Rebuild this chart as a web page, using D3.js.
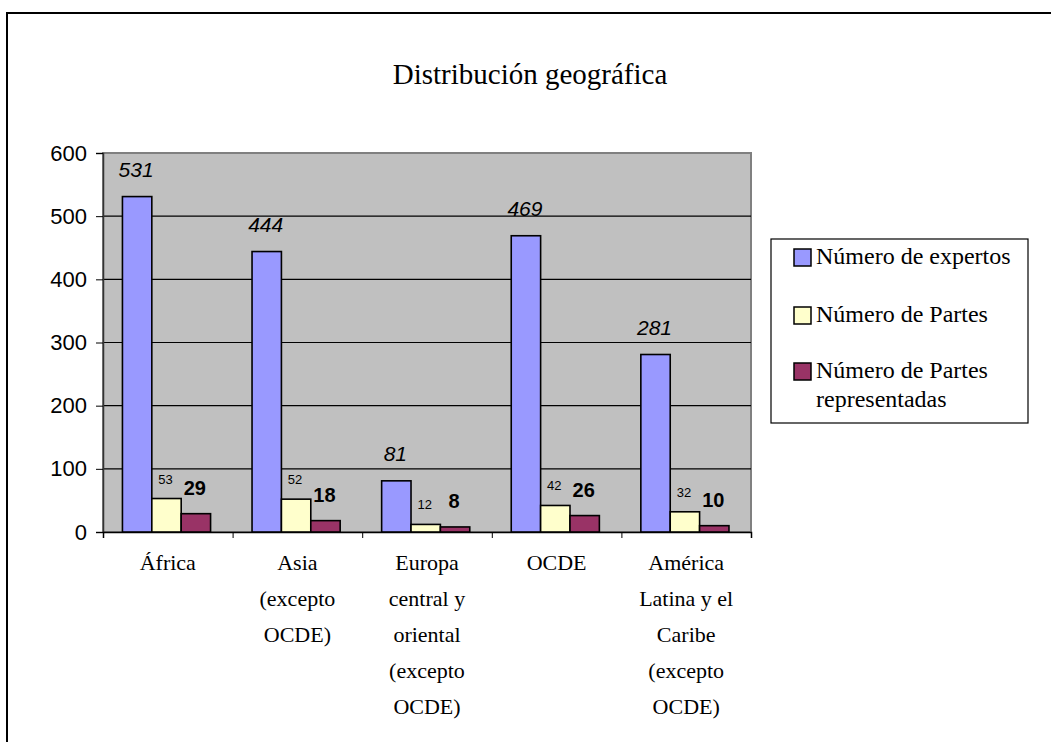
<!DOCTYPE html>
<html>
<head>
<meta charset="utf-8">
<script src="https://cdn.jsdelivr.net/npm/d3@7"></script>
<style>
  body { margin: 0; background: #fff; }
</style>
</head>
<body>
<div id="chart-root"></div>
<script>
// data
var regions = [
  ["África"],
  ["Asia", "(excepto", "OCDE)"],
  ["Europa", "central y", "oriental", "(excepto", "OCDE)"],
  ["OCDE"],
  ["América", "Latina y el", "Caribe", "(excepto", "OCDE)"]
];
var expertos = [531, 444, 81, 469, 281];
var partes = [53, 52, 12, 42, 32];
var representadas = [29, 18, 8, 26, 10];
var seriesNames = [["Número de expertos"], ["Número de Partes"], ["Número de Partes", "representadas"]];
var yTicks = [0, 100, 200, 300, 400, 500, 600];
var title = "Distribución geográfica";

(function () {
  var W = 1051, H = 742;
  var plot = { left: 103, right: 751, top: 153, bottom: 532 };
  var colors = ["#9999ff", "#ffffcc", "#993366"];
  var serif = "'Liberation Serif', 'Times New Roman', serif";
  var sans = "'Liberation Sans', Arial, sans-serif";

  var svg = d3.select("#chart-root")
    .append("svg")
      .attr("width", W)
      .attr("height", H);

  // outer frame (runs off the page on the right and bottom)
  svg.append("rect")
    .attr("x", 7).attr("y", 13)
    .attr("width", W + 20).attr("height", H + 20)
    .attr("fill", "#fff")
    .attr("stroke", "#000")
    .attr("stroke-width", 2);

  svg.append("text")
    .attr("x", 530).attr("y", 84)
    .attr("text-anchor", "middle")
    .attr("font-family", serif)
    .attr("font-size", 29)
    .text(title);

  var series = [expertos, partes, representadas];
  var rows = regions.map(function (r, i) {
    return { i: i, lines: r, values: series.map(function (s) { return s[i]; }) };
  });

  var x = d3.scaleBand()
    .domain(d3.range(regions.length))
    .range([plot.left, plot.right]);
  var bw = x.bandwidth();
  var xs = d3.scaleBand()
    .domain([0, 1, 2])
    .range([bw * 0.15, bw * 0.83]);
  var y = d3.scaleLinear()
    .domain([0, 600])
    .range([plot.bottom, plot.top]);

  // plot area
  svg.append("rect")
    .attr("x", plot.left).attr("y", plot.top)
    .attr("width", plot.right - plot.left)
    .attr("height", plot.bottom - plot.top)
    .attr("fill", "#c0c0c0")
    .attr("stroke", "#808080")
    .attr("stroke-width", 2);

  // gridlines
  svg.append("g")
    .selectAll("line")
    .data(yTicks.filter(function (t) { return t > 0 && t < 600; }))
    .enter().append("line")
      .attr("x1", plot.left).attr("x2", plot.right)
      .attr("y1", function (d) { return y(d); })
      .attr("y2", function (d) { return y(d); })
      .attr("stroke", "#000")
      .attr("stroke-width", 1.2);

  // y axis
  var yAxis = svg.append("g")
    .attr("transform", "translate(" + plot.left + ",0)")
    .call(d3.axisLeft(y).tickValues(yTicks).tickSize(7).tickPadding(9));
  yAxis.select(".domain").attr("stroke", "#333").attr("stroke-width", 1.5);
  yAxis.selectAll(".tick line").attr("stroke", "#000");
  yAxis.selectAll("text")
    .attr("font-family", sans)
    .attr("font-size", 22)
    .attr("fill", "#000");

  // x axis, ticks between categories
  var xb = d3.scaleLinear().domain([0, regions.length]).range([plot.left, plot.right]);
  var xAxis = svg.append("g")
    .attr("transform", "translate(0," + plot.bottom + ")")
    .call(d3.axisBottom(xb).tickValues(d3.range(regions.length + 1)).tickSize(6).tickFormat(""));
  xAxis.select(".domain").attr("stroke", "#000").attr("stroke-width", 1.5);
  xAxis.selectAll(".tick line").attr("stroke", "#000");

  // bars
  var groups = svg.append("g")
    .selectAll("g")
    .data(rows)
    .enter().append("g")
      .attr("transform", function (d) { return "translate(" + x(d.i) + ",0)"; });

  groups.selectAll("rect")
    .data(function (d) { return d.values; })
    .enter().append("rect")
      .attr("x", function (d, j) { return xs(j); })
      .attr("width", xs.bandwidth())
      .attr("y", function (d) { return y(d); })
      .attr("height", function (d) { return y(0) - y(d); })
      .attr("fill", function (d, j) { return colors[j]; })
      .attr("stroke", "#000")
      .attr("stroke-width", 1.6);

  // value labels
  var labelStyle = [
    { size: 21, weight: "normal", fstyle: "italic", gap: 20 },
    { size: 13, weight: "normal", fstyle: "normal", gap: 15 },
    { size: 20, weight: "bold", fstyle: "normal", gap: 19 }
  ];
  groups.selectAll("text.val")
    .data(function (d) { return d.values; })
    .enter().append("text")
      .attr("class", "val")
      .attr("x", function (d, j) { return xs(j) + xs.bandwidth() / 2 - 1; })
      .attr("y", function (d, j) { return y(d) - labelStyle[j].gap; })
      .attr("text-anchor", "middle")
      .attr("font-family", sans)
      .attr("font-size", function (d, j) { return labelStyle[j].size; })
      .attr("font-weight", function (d, j) { return labelStyle[j].weight; })
      .attr("font-style", function (d, j) { return labelStyle[j].fstyle; })
      .text(function (d) { return d; });

  // category labels
  groups.append("text")
    .attr("class", "cat")
    .attr("text-anchor", "middle")
    .attr("font-family", serif)
    .attr("font-size", 22)
    .selectAll("tspan")
    .data(function (d) { return d.lines; })
    .enter().append("tspan")
      .attr("x", bw / 2)
      .attr("y", function (d, k) { return 570 + k * 36; })
      .text(function (d) { return d; });

  // legend
  var lg = svg.append("g").attr("transform", "translate(771,239)");
  lg.append("rect")
    .attr("width", 257).attr("height", 184)
    .attr("fill", "#fff")
    .attr("stroke", "#000")
    .attr("stroke-width", 1.2);
  var items = lg.selectAll("g.item")
    .data(seriesNames)
    .enter().append("g")
      .attr("class", "item")
      .attr("transform", function (d, j) { return "translate(0," + [0, 58, 114][j] + ")"; });
  items.append("rect")
    .attr("x", 23).attr("y", 10)
    .attr("width", 17).attr("height", 17)
    .attr("fill", function (d, j) { return colors[j]; })
    .attr("stroke", "#000")
    .attr("stroke-width", 1.5);
  items.append("text")
    .attr("font-family", serif)
    .attr("font-size", 24)
    .selectAll("tspan")
    .data(function (d) { return d; })
    .enter().append("tspan")
      .attr("x", 45)
      .attr("y", function (d, k) { return 25 + k * 29; })
      .text(function (d) { return d; });
})();
</script>
</body>
</html>
